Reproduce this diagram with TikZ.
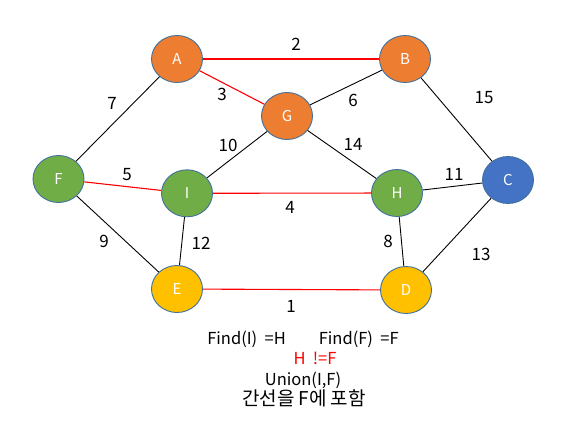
\documentclass[tikz,border=0pt]{standalone}
\usepackage{fontspec}
\setmainfont{Noto Sans CJK KR}
\usetikzlibrary{shapes.geometric}
\definecolor{nOrange}{HTML}{ED7D31}
\definecolor{nGreen}{HTML}{70AD47}
\definecolor{nBlue}{HTML}{4472C4}
\definecolor{nYellow}{HTML}{FFC000}
\definecolor{nBorder}{HTML}{41719C}
\definecolor{eRed}{RGB}{255,0,0}
\tikzset{
  vtx/.style={ellipse, draw=nBorder, line width=0.9pt, minimum width=51pt, minimum height=47pt, inner sep=0pt, text=white, font=\fontsize{15}{17}\selectfont},
  edgeb/.style={draw=black, line width=0.9pt},
  edger/.style={draw=eRed, line width=1.1pt},
  wlab/.style={font=\fontsize{17}{19}\selectfont, inner sep=0pt},
  txt/.style={font=\fontsize{16.5}{18}\selectfont, inner sep=0pt}
}
\begin{document}
\begin{tikzpicture}[x=1pt, y=-1pt]
\useasboundingbox (0,0) rectangle (576,426);
\node[vtx, fill=nOrange] (A) at (177,59) {A};
\node[vtx, fill=nOrange] (B) at (405,59) {B};
\node[vtx, fill=nOrange] (G) at (287,116) {G};
\node[vtx, fill=nGreen] (F) at (58.5,179) {F};
\node[vtx, fill=nGreen] (I) at (187,193.3) {I};
\node[vtx, fill=nGreen] (H) at (397,193) {H};
\node[vtx, fill=nBlue] (C) at (508,180) {C};
\node[vtx, fill=nYellow] (E) at (177,289) {E};
\node[vtx, fill=nYellow] (D) at (406,290) {D};
\draw[edger] (A) -- (B);
\draw[edger] (A) -- (G);
\draw[edger] (F) -- (I);
\draw[edger] (I) -- (H);
\draw[edger] (E) -- (D);
\draw[edgeb] (A) -- (F);
\draw[edgeb] (B) -- (G);
\draw[edgeb] (B) -- (C);
\draw[edgeb] (G) -- (I);
\draw[edgeb] (G) -- (H);
\draw[edgeb] (H) -- (C);
\draw[edgeb] (H) -- (D);
\draw[edgeb] (C) -- (D);
\draw[edgeb] (F) -- (E);
\draw[edgeb] (I) -- (E);
\node[wlab] (l2) at (296,44) {2};
\node[wlab] (l3) at (222,94) {3};
\node[wlab] (l6) at (353,100) {6};
\node[wlab] (l7) at (112,103) {7};
\node[wlab] (l15) at (484,98) {15};
\node[wlab] (l10) at (228,145) {10};
\node[wlab] (l14) at (353,144) {14};
\node[wlab] (l5) at (127,175) {5};
\node[wlab] (l11) at (454,174) {11};
\node[wlab] (l4) at (290,207) {4};
\node[wlab] (l9) at (104,241) {9};
\node[wlab] (l12) at (201,243) {12};
\node[wlab] (l8) at (388,241) {8};
\node[wlab] (l13) at (481,254) {13};
\node[wlab] (l1) at (291,306) {1};
\node[txt] (t1) at (303,339) {Find(I)\ \ =H\qquad Find(F)\ \ =F};
\node[txt, text=eRed] (t2) at (315,358) {H\ \ !=F};
\node[txt] (t3) at (303,380) {Union(I,F)};
\node[txt, font=\fontsize{19}{21}\selectfont] (t4) at (304,398) {간선을 F에 포함};
\end{tikzpicture}
\end{document}
